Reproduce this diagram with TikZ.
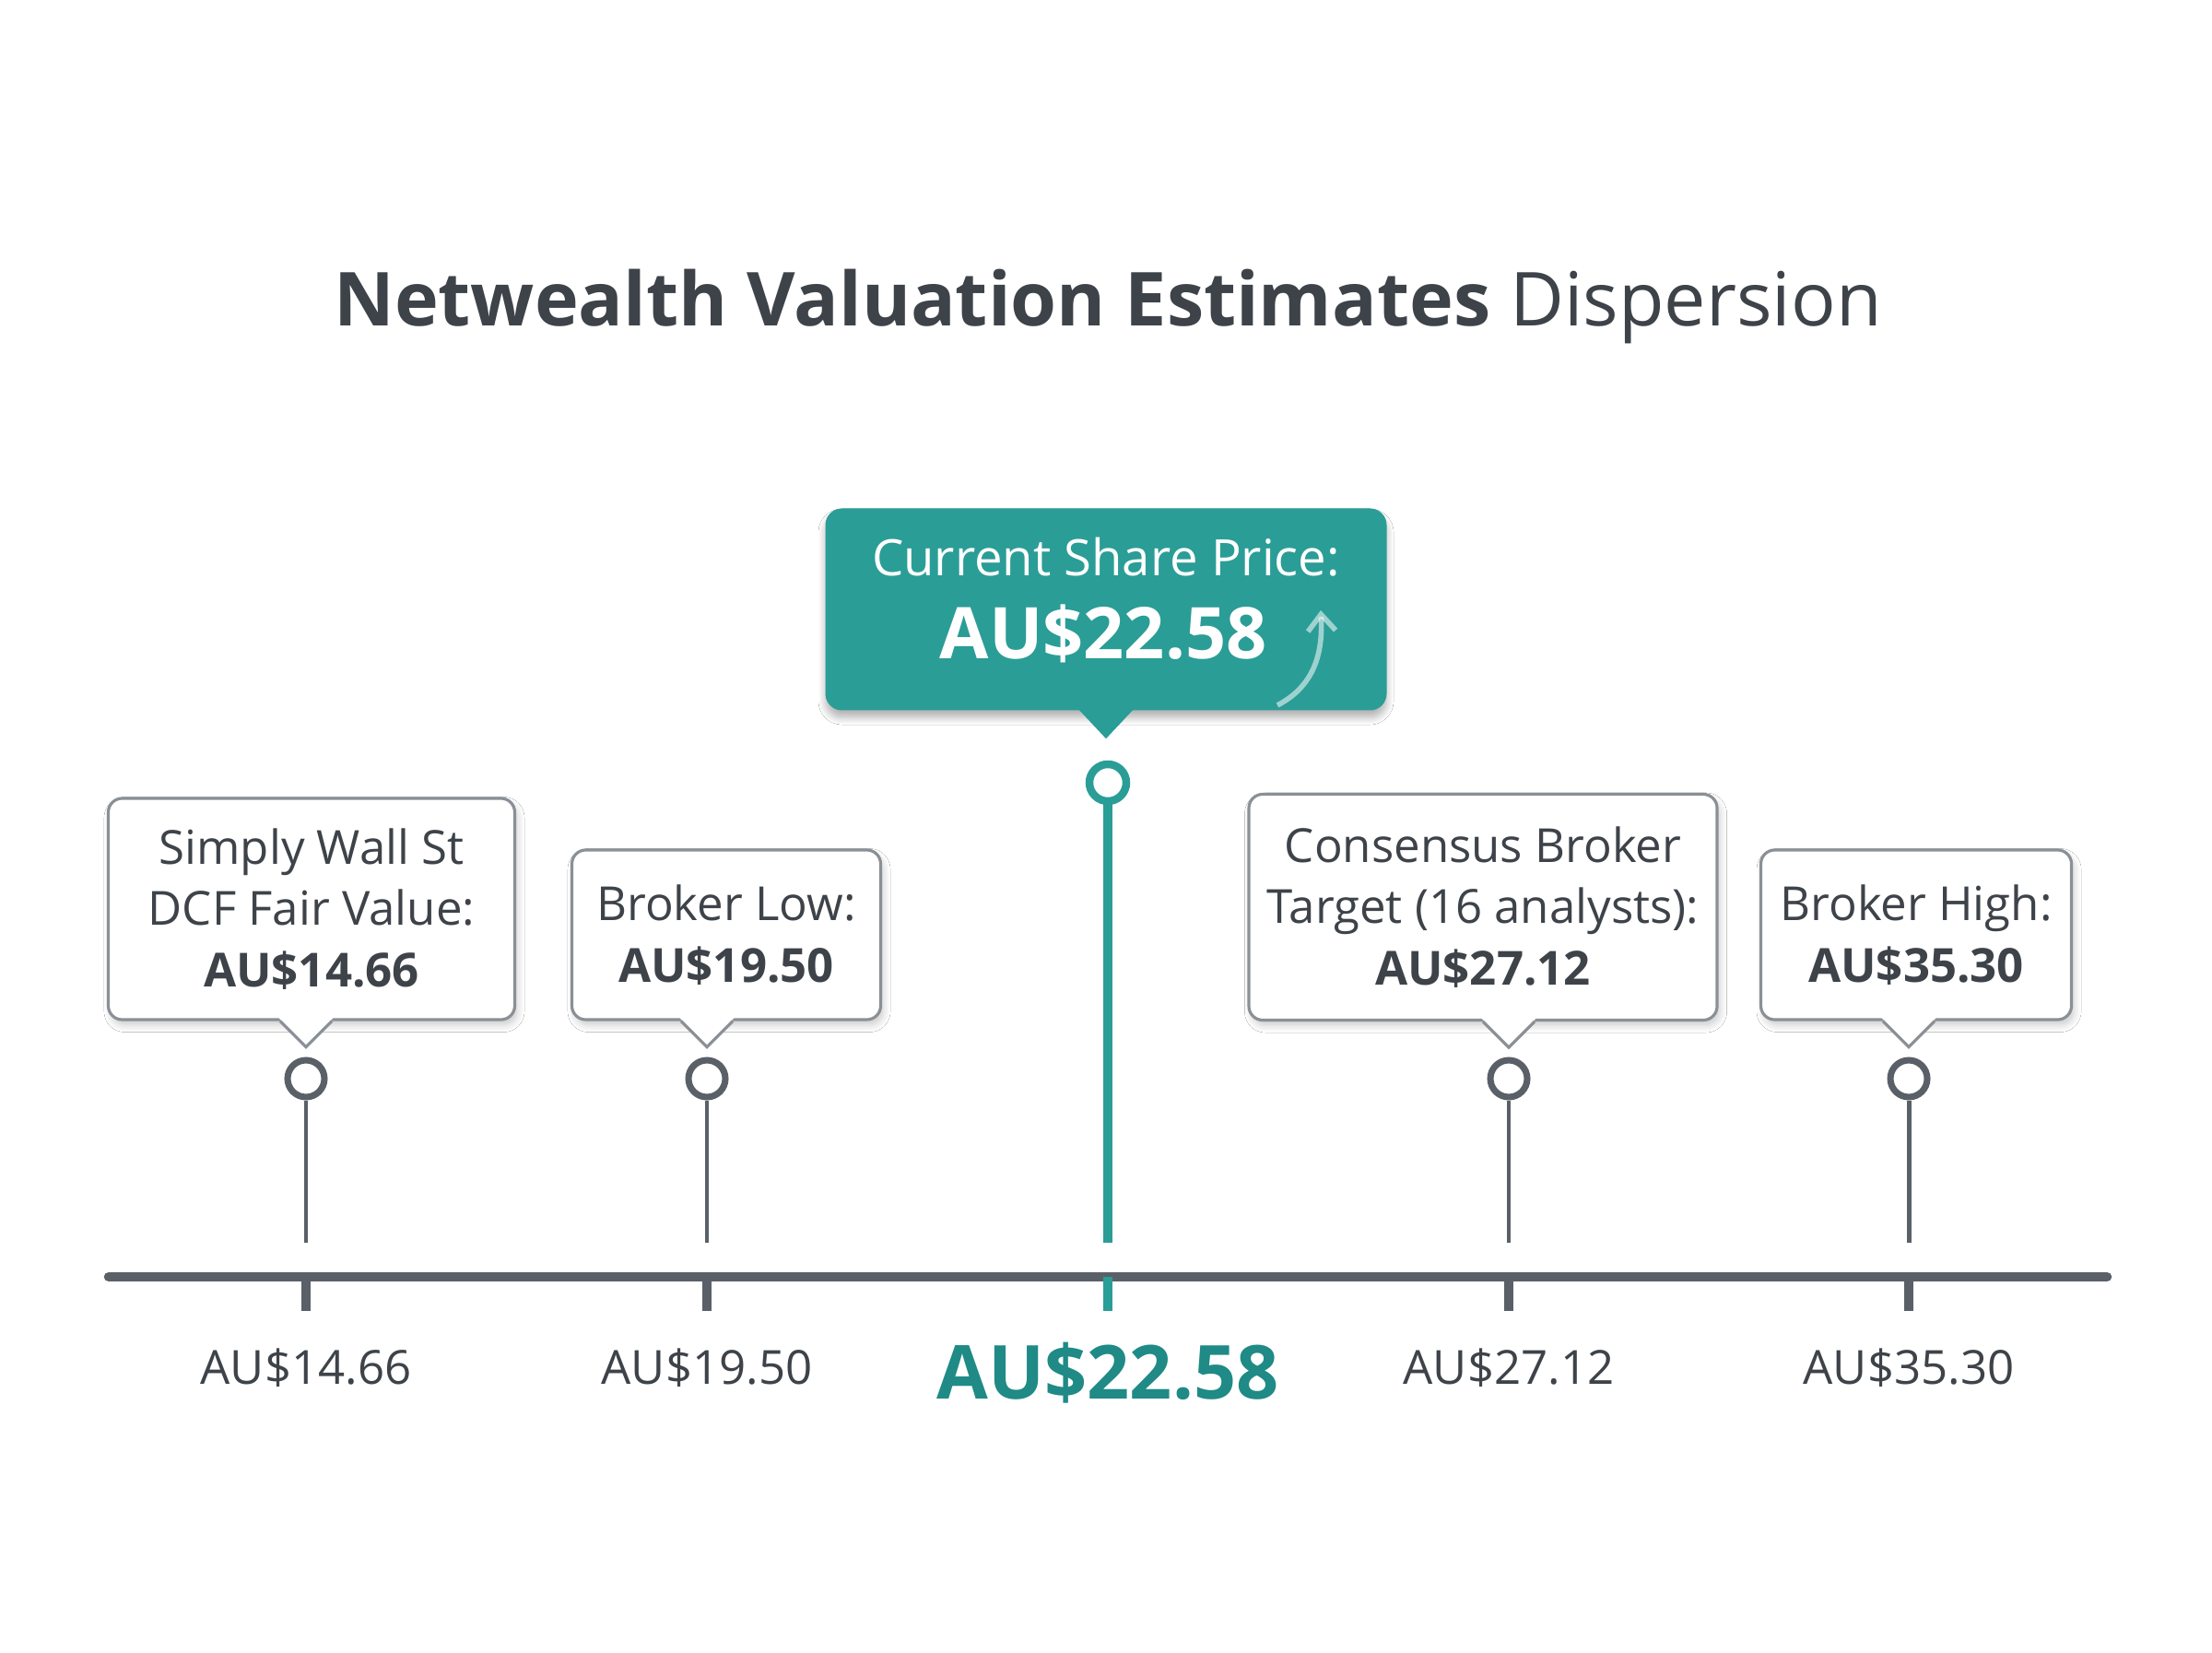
\documentclass[tikz,border=0pt]{standalone}
\usepackage{fontspec}
\setmainfont{Open Sans}
\usetikzlibrary{calc,shadows.blur,arrows.meta}
\definecolor{ink}{HTML}{3D4349}
\definecolor{axisgray}{HTML}{5A6068}
\definecolor{boxgray}{HTML}{8A9096}
\definecolor{teal}{HTML}{2A9D96}
\definecolor{tealdark}{HTML}{1F8A86}
\tikzset{
  callout/.style={rectangle,rounded corners=0.15cm,draw=boxgray,line width=0.9pt,fill=white,
    align=center,text=ink,font=\fontsize{14.5}{19}\selectfont,
    blur shadow={shadow blur steps=6,shadow opacity=20,shadow xshift=0.03cm,shadow yshift=-0.06cm}},
  pin/.style={circle,draw=axisgray,line width=2pt,fill=white,minimum size=0.4cm,inner sep=0pt},
  stem/.style={draw=axisgray,line width=1.4pt},
  tick/.style={draw=axisgray,line width=3pt},
  price/.style={text=ink,font=\fontsize{14.5}{18}\selectfont},
}
\newcommand{\pointer}[2]{% box, stem coordinate
  \fill[white] ($(#1.south -| #2)+(-0.3,0.04)$) -- ($(#1.south -| #2)+(0,-0.28)$) -- ($(#1.south -| #2)+(0.3,0.04)$) -- cycle;
  \draw[draw=boxgray,line width=0.9pt] ($(#1.south -| #2)+(-0.28,0)$) -- ($(#1.south -| #2)+(0,-0.28)$) -- ($(#1.south -| #2)+(0.28,0)$);
}
\begin{document}
\begin{tikzpicture}
\useasboundingbox (0,0) rectangle (24,17.92);
\fill[white] (0,0) rectangle (24,17.92);

% title
\node[text=ink,font=\fontsize{23}{28}\selectfont] (title) at (12.02,14.59)
  {\textbf{Netwealth Valuation Estimates} Dispersion};

% axis
\coordinate (axl) at (1.18,4.07);
\coordinate (axr) at (22.86,4.07);
\draw[draw=axisgray,line width=3pt,line cap=round] (axl) -- (axr);

% markers
\foreach \n/\x in {1/3.32,2/7.67,4/16.37,5/20.71}{
  \coordinate (c\n) at (\x,4.07);
  \coordinate (s\n) at (\x,4.44);
  \node[pin] (p\n) at (\x,6.22) {};
  \draw[stem] (p\n) -- (s\n);
  \draw[tick] (c\n) -- ++(0,-0.37);
}
\coordinate (c3) at (12.02,4.07);
\coordinate (s3) at (12.02,4.44);
\node[pin,draw=teal,line width=2.4pt] (p3) at (12.02,9.43) {};
\draw[draw=teal,line width=3pt] (p3) -- (s3);
\draw[draw=teal,line width=3pt] (c3) -- ++(0,-0.37);

% prices
\node[price] (l1) at (3.32,3.08) {AU\$14.66};
\node[price] (l2) at (7.67,3.08) {AU\$19.50};
\node[text=tealdark,font=\bfseries\fontsize{23}{28}\selectfont] (l3) at (12.02,3.03) {AU\$22.58};
\node[price] (l4) at (16.37,3.08) {AU\$27.12};
\node[price] (l5) at (20.71,3.08) {AU\$35.30};

% callouts
\node[callout,minimum width=4.41cm,minimum height=2.4cm] (b1) at (3.38,8.06)
  {Simply Wall St\\DCF Fair Value:\\\textbf{AU\$14.66}};
\node[callout,minimum width=3.35cm,minimum height=1.84cm] (b2) at (7.88,7.78)
  {Broker Low:\\\textbf{AU\$19.50}};
\node[callout,minimum width=5.08cm,minimum height=2.45cm] (b4) at (16.09,8.08)
  {Consensus Broker\\Target (16 analysts):\\\textbf{AU\$27.12}};
\node[callout,minimum width=3.37cm,minimum height=1.84cm] (b5) at (20.79,7.78)
  {Broker High:\\\textbf{AU\$35.30}};
\pointer{b1}{c1}
\pointer{b2}{c2}
\pointer{b4}{c4}
\pointer{b5}{c5}

% current price
\node[rectangle,rounded corners=0.18cm,fill=teal,minimum width=6.09cm,minimum height=2.19cm,
  blur shadow={shadow blur steps=8,shadow opacity=30,shadow xshift=0cm,shadow yshift=-0.08cm}] (cur) at (12.0,11.31) {};
\fill[teal] ($(cur.south)+(-0.3,0.02)$) -- ($(cur.south)+(0,-0.3)$) -- ($(cur.south)+(0.3,0.02)$) -- cycle;
\node[text=white,font=\fontsize{15.5}{19}\selectfont] (curtop) at (12.0,11.88) {Current Share Price:};
\node[text=white,font=\bfseries\fontsize{22}{27}\selectfont] (curval) at (11.97,11.05) {AU\$22.58};
\coordinate (ua) at (13.86,10.27);
\coordinate (ub) at (14.33,11.3);
\draw[white,opacity=0.55,line width=1.6pt,-{Straight Barb[length=0.18cm,width=0.3cm]}]
  (ua) .. controls (14.3,10.5) and (14.35,10.9) .. (ub);
\end{tikzpicture}
\end{document}
